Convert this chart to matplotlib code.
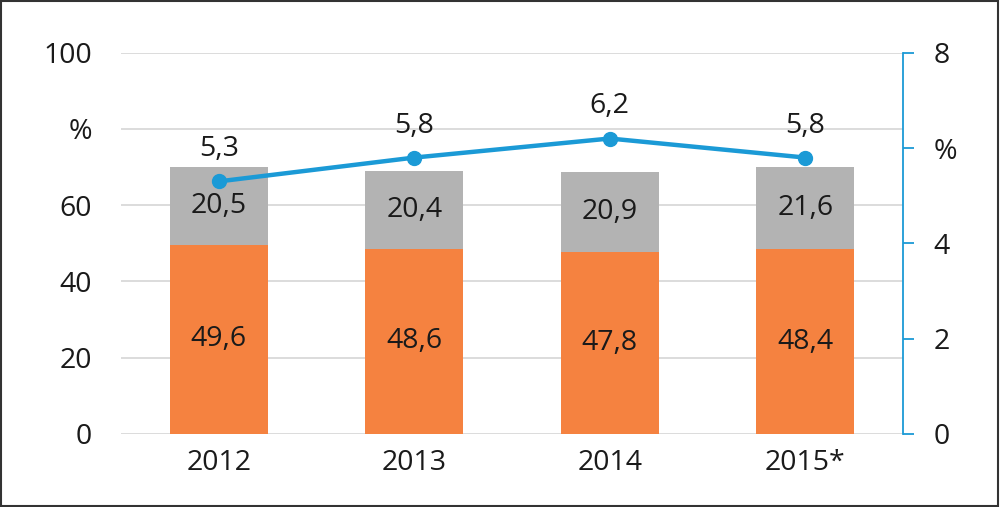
import matplotlib
matplotlib.use("Agg")
import matplotlib.pyplot as plt
from matplotlib.patches import Rectangle

plt.rcParams["font.family"] = ["Open Sans", "DejaVu Sans"]

# data
years = ["2012", "2013", "2014", "2015*"]
orange_vals = [49.6, 48.6, 47.8, 48.4]
grey_vals = [20.5, 20.4, 20.9, 21.6]
line_vals = [5.3, 5.8, 6.2, 5.8]

left_ticks = [0, 20, 40, 60, 80, 100]
left_labels = ["0", "20", "40", "60", "%", "100"]
right_ticks = [0, 2, 4, 6, 8]
right_labels = ["0", "2", "4", "%", "8"]

ORANGE = "#F58240"
GREY = "#B3B3B3"
BLUE = "#1B9AD6"
TXT = "#1a1a1a"
FS = 20.5

fig = plt.figure(figsize=(10, 5.07), dpi=100)
ax = fig.add_axes([0.121, 0.144, 0.782, 0.752])
x = list(range(len(years)))

ax.bar(x, orange_vals, width=0.5, color=ORANGE, zorder=2)
ax.bar(x, grey_vals, width=0.5, bottom=orange_vals, color=GREY, zorder=2)
for xi, o, g in zip(x, orange_vals, grey_vals):
    ax.text(xi, o / 2, f"{o:.1f}".replace(".", ","), ha="center", va="center",
            fontsize=FS, color=TXT, zorder=3)
    ax.text(xi, o + g / 2, f"{g:.1f}".replace(".", ","), ha="center", va="center",
            fontsize=FS, color=TXT, zorder=3)

ax.set_xlim(-0.5, len(years) - 0.5)
ax.set_ylim(0, 100)
ax.set_yticks(left_ticks)
ax.set_yticklabels(left_labels)
ax.set_xticks(x)
ax.set_xticklabels(years)
ax.tick_params(axis="both", length=0, labelsize=FS, colors=TXT)
ax.tick_params(axis="y", pad=21)
ax.tick_params(axis="x", pad=11)
ax.grid(axis="y", color="#D9D9D9", lw=1.3, zorder=0)
ax.set_axisbelow(True)
for s in ax.spines.values():
    s.set_visible(False)

ax2 = ax.twinx()
ax2.plot(x, line_vals, color=BLUE, lw=3.2, marker="o", ms=10, zorder=4)
for xi, v in zip(x, line_vals):
    ax2.annotate(f"{v:.1f}".replace(".", ","), (xi, v), xytext=(0, 13),
                 textcoords="offset points", ha="center", va="bottom",
                 fontsize=FS, color=TXT)
ax2.set_ylim(0, 8)
ax2.set_yticks(right_ticks)
ax2.set_yticklabels(right_labels)
ax2.tick_params(axis="y", length=8, width=1.3, color=BLUE, labelsize=FS,
                labelcolor=TXT, pad=14)
for side in ("top", "bottom", "left"):
    ax2.spines[side].set_visible(False)
ax2.spines["right"].set_color(BLUE)
ax2.spines["right"].set_linewidth(1.3)

# frame around the whole picture
fig.patches.append(Rectangle((0.001, 0.002), 0.997, 0.996, transform=fig.transFigure,
                             fill=False, edgecolor="#333333", lw=1.5))

fig.savefig("out.png", dpi=100)
